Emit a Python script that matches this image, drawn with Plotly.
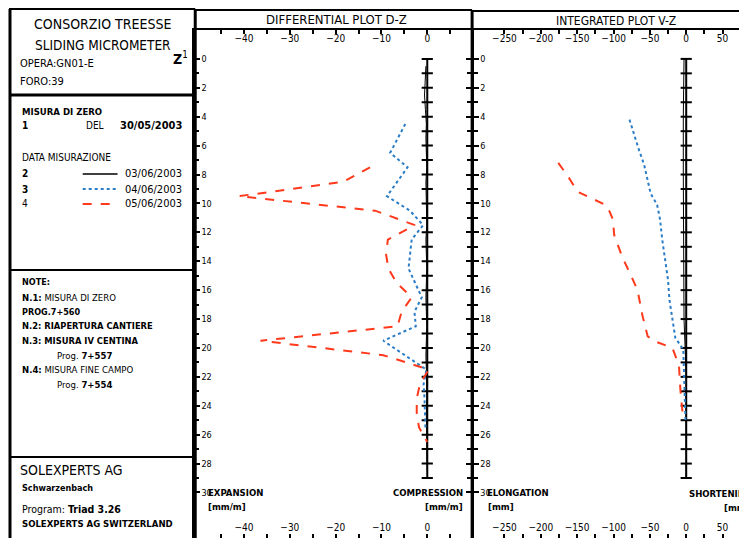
import plotly.graph_objects as go

# reference picture is 747x538; the page body adds an 8px margin, so the figure is drawn 8px smaller
W, H = 747, 538
OFF = 8
FW, FH = W - OFF, H - OFF

# ---------------- data ----------------
ref_depth = list(range(0, 30))            # measuring marks, every metre
depth_labels = list(range(0, 31, 2))      # labelled depths [m]
depth_minor = list(range(0, 31))

diff_black_depth = [0.5, 1.5, 2.5, 3.5, 4.5, 5.5, 6.5, 7.5, 8.5, 9.5, 10.5, 11.5, 12.5, 13.5, 14.5,
                    15.5, 16.5, 17.5, 18.5, 19.5, 20.5, 21.5, 22.5, 23.5, 24.5, 25.5, 26.5, 27.5, 28.5]
diff_black_val = [-0.3, -0.5, -0.6, -0.4, -0.2, -0.3, -0.2, -0.1, -0.3, -0.2, -0.2, -0.1, -0.3, -0.2, -0.1,
                  -0.2, -0.3, -0.2, -0.1, -0.2, -0.3, -0.2, -0.1, -0.1, -0.2, -0.1, -0.1, -0.1, 0.0]

diff_blue_depth = [4.5, 6.5, 7.5, 9.5, 10.5, 11.5, 12.5, 14.5, 16.5, 17.5, 18.5, 19.5, 21.5, 22.5, 23.5, 24.5, 25.5]
diff_blue_val = [-4.8, -8.1, -4.3, -8.8, -3.8, -0.9, -3.4, -4.1, -1.2, -2.8, -2.5, -9.6, -0.2, -0.8, -0.6, -0.5, -0.4]

diff_red_depth = [7.5, 8.5, 9.5, 10.5, 11.5, 12.5, 13.5, 14.5, 15.5, 16.5, 17.5, 18.5, 19.5, 20.5,
                  21.5, 22.5, 23.5, 24.5, 25.5, 26.5]
diff_red_val = [-12.5, -18.3, -41.1, -11.4, -2.7, -8.6, -9.0, -8.5, -6.7, -3.4, -5.6, -6.5, -36.4, -9.6,
                0.3, -1.6, -2.3, -2.3, -1.8, 0.0]

int_black_depth = [0, 2, 4, 8, 12, 16, 18, 20, 22, 29]
int_black_val = [-3, -4, -4, -4, -4, -3.5, -3, -1.5, 0, 0]

int_blue_depth = [4.2, 4.9, 6.3, 7.3, 9.3, 10.1, 11.1, 12.5, 14.1, 15.3, 16.7, 18.1, 19.3, 20.1, 22.2, 25.0]
int_blue_val = [-78, -74, -65, -58, -49, -40, -36, -33, -28, -25, -23, -19, -15, -4, -3, -1]

int_red_depth = [7.2, 8.1, 9.2, 9.6, 10.1, 10.6, 11.1, 12.2, 13.7, 15.1, 16.0, 17.8, 19.2, 19.6, 20.0,
                 21.2, 22.9, 24.5, 25.0]
int_red_val = [-176, -163, -149, -131, -111, -105, -101, -99, -88, -75, -67, -60, -53, -40, -19,
               -10, -8, -5, -3]

series_names = ["03/06/2003", "04/06/2003", "05/06/2003"]

# ---------------- helpers ----------------
def X(px):
    return (px - OFF) / FW


def Y(py):
    return 1 - (py - OFF) / FH


FONT = "DejaVu Sans Condensed, Liberation Sans Narrow, Arial Narrow, sans-serif"
BLUE = "#2a7cc6"
RED = "#ff3a1c"

fig = go.Figure()

# differential plot
fig.add_trace(go.Scatter(x=[0 for _ in ref_depth], y=ref_depth, xaxis="x", yaxis="y", mode="lines+markers",
                         line=dict(color="black", width=2),
                         marker=dict(symbol="line-ew", size=8, line=dict(color="black", width=2)),
                         showlegend=False, hoverinfo="skip"))
fig.add_trace(go.Scatter(x=diff_black_val, y=diff_black_depth, xaxis="x", yaxis="y", mode="lines",
                         line=dict(color="black", width=1), name=series_names[0], showlegend=False))
fig.add_trace(go.Scatter(x=diff_blue_val, y=diff_blue_depth, xaxis="x", yaxis="y", mode="lines",
                         line=dict(color=BLUE, width=2, dash="dot"), name=series_names[1], showlegend=False))
fig.add_trace(go.Scatter(x=diff_red_val, y=diff_red_depth, xaxis="x", yaxis="y", mode="lines",
                         line=dict(color=RED, width=2, dash="dash"), name=series_names[2], showlegend=False))
fig.add_trace(go.Scatter(x=[None], y=[None], xaxis="x2", yaxis="y", showlegend=False, hoverinfo="skip"))

# integrated plot
fig.add_trace(go.Scatter(x=[0 for _ in ref_depth], y=ref_depth, xaxis="x3", yaxis="y2", mode="lines+markers",
                         line=dict(color="black", width=2),
                         marker=dict(symbol="line-ew", size=8, line=dict(color="black", width=2)),
                         showlegend=False, hoverinfo="skip"))
fig.add_trace(go.Scatter(x=int_black_val, y=int_black_depth, xaxis="x3", yaxis="y2", mode="lines",
                         line=dict(color="black", width=1), name=series_names[0], showlegend=False))
fig.add_trace(go.Scatter(x=int_blue_val, y=int_blue_depth, xaxis="x3", yaxis="y2", mode="lines",
                         line=dict(color=BLUE, width=2, dash="dot"), name=series_names[1], showlegend=False))
fig.add_trace(go.Scatter(x=int_red_val, y=int_red_depth, xaxis="x3", yaxis="y2", mode="lines",
                         line=dict(color=RED, width=2, dash="dash"), name=series_names[2], showlegend=False))
fig.add_trace(go.Scatter(x=[None], y=[None], xaxis="x4", yaxis="y2", showlegend=False, hoverinfo="skip"))

tickfont = dict(family=FONT, size=10, color="black")


def xax(dom, rng, dtick, minor, side, overlay=None, anchor="y", line=False):
    d = dict(domain=dom, range=rng, anchor=anchor, side=side, tick0=0, dtick=dtick,
             ticks="inside", ticklen=4, tickwidth=1.5, tickcolor="black",
             ticklabelposition="inside", tickfont=tickfont, showgrid=False, zeroline=False,
             showline=line, linecolor="black", linewidth=2,
             minor=dict(dtick=minor, tick0=0, ticks="inside", ticklen=4, tickcolor="black", showgrid=False))
    if overlay:
        d["overlaying"] = overlay
    return d


def yax(anchor):
    return dict(domain=[0, Y(30)], range=[33.15, -2.0], anchor=anchor,
                tickmode="array", tickvals=depth_labels,
                ticks="inside", ticklen=5, tickwidth=1.5, tickcolor="black",
                ticklabelposition="inside", tickfont=dict(family=FONT, size=9, color="black"),
                showgrid=False, zeroline=False, showline=True, linecolor="black", linewidth=3,
                mirror="ticks",
                minor=dict(tickmode="array", tickvals=depth_minor, ticks="inside", ticklen=4,
                           tickcolor="black", showgrid=False))


dom_d = [X(196), X(473)]
dom_i = [X(476), 1.0]
rng_d = [-50.65, 9.57]
rng_i = [-291.8, 79.5]

layout = dict(
    width=FW, height=FH, margin=dict(l=0, r=0, t=0, b=0),
    paper_bgcolor="white", plot_bgcolor="white", showlegend=False,
    font=dict(family=FONT, color="black"),
    xaxis=xax(dom_d, rng_d, 10, 5, "bottom", anchor="y"),
    xaxis2=xax(dom_d, rng_d, 10, 5, "top", overlay="x", anchor="y", line=True),
    xaxis3=xax(dom_i, rng_i, 50, 25, "bottom", anchor="y2"),
    xaxis4=xax(dom_i, rng_i, 50, 25, "top", overlay="x3", anchor="y2", line=True),
    yaxis=yax("x"),
    yaxis2=yax("x3"),
)
fig.update_layout(**layout)

# ---------------- frame shapes ----------------
shapes = []


def line(x0, y0, x1, y1, w=2, color="black", dash="solid"):
    shapes.append(dict(type="line", xref="paper", yref="paper", x0=X(x0), y0=Y(y0), x1=X(x1), y1=Y(y1),
                       line=dict(color=color, width=w, dash=dash)))


# left panel
line(10, 9, 10, 540, 3)
line(9, 9, 196, 9, 2)
line(10, 95, 195, 95, 3)
line(10, 270, 195, 270, 2)
line(10, 457, 195, 457, 2)
# middle panel
line(196, 9, 196, 540, 3)
line(196, 10, 474, 10, 2)
line(474, 10, 474, 540, 3)
# right panel
line(474, 11, 747, 11, 2)

# legend keys
line(83, 174, 118, 174, 1.5, "black")
line(83, 189, 118, 189, 2, BLUE, "dot")
line(83, 204, 118, 204, 2, RED, "dash")
fig.update_layout(shapes=shapes)

# ---------------- texts ----------------
ann = []


def txt(x, y, s, size=10, anchor="left", bold=False):
    ann.append(dict(x=X(x), y=Y(y), xref="paper", yref="paper", text=("<b>%s</b>" % s) if bold else s,
                    showarrow=False, xanchor=anchor, yanchor="middle",
                    font=dict(family=FONT, size=size, color="black")))


txt(103, 24, "CONSORZIO TREESSE", 14, "center")
txt(103, 45, "SLIDING MICROMETER", 13.5, "center")
txt(181, 58, "<b>Z</b><sup>1</sup>", 14, "center")
txt(18, 64, "OPERA:GN01-E", 11)
txt(18, 82, "FORO:39", 11)

txt(20, 111, "MISURA DI ZERO", 9.5, bold=True)
txt(20, 126, "1", 10, bold=True)
txt(84, 126, "DEL", 10)
txt(185, 126, "30/05/2003", 11, "right", bold=True)
txt(20, 158, "DATA MISURAZIONE", 10)
txt(20, 174, "2", 10, bold=True)
txt(20, 189, "3", 10, bold=True)
txt(20, 204, "4", 10)
txt(185, 174, series_names[0], 11, "right")
txt(185, 189, series_names[1], 11, "right")
txt(185, 204, series_names[2], 11, "right")

txt(20, 282, "NOTE:", 9, bold=True)
txt(20, 297, "<b>N.1:</b> MISURA DI ZERO", 9.5)
txt(20, 312, "PROG.7+560", 9, bold=True)
txt(20, 325, "N.2: RIAPERTURA CANTIERE", 9.3, bold=True)
txt(20, 340, "N.3: MISURA IV CENTINA", 9.3, bold=True)
txt(55, 355, "Prog. <b>7+557</b>", 9.5)
txt(20, 369, "<b>N.4:</b> MISURA FINE CAMPO", 9.5)
txt(55, 384, "Prog. <b>7+554</b>", 9.5)

txt(18, 470, "SOLEXPERTS AG", 14)
txt(20, 488, "Schwarzenbach", 9, bold=True)
txt(20, 509, "Program: <b>Triad 3.26</b>", 10.5)
txt(20, 523, "SOLEXPERTS AG SWITZERLAND", 9.5, bold=True)

txt(338, 20, "DIFFERENTIAL PLOT D-Z", 13, "center")
txt(618, 21, "INTEGRATED PLOT V-Z", 12, "center")

txt(207, 492, "EXPANSION", 9.5, bold=True)
txt(207, 506, "[mm/m]", 9.5, bold=True)
txt(467, 492, "COMPRESSION", 9.5, "right", bold=True)
txt(467, 506, "[mm/m]", 9.5, "right", bold=True)
txt(487, 492, "ELONGATION", 9.5, bold=True)
txt(488, 506, "[mm]", 9.5, bold=True)
txt(690, 493, "SHORTENING", 9.5, bold=True)
txt(725, 507, "[mm]", 9.5, bold=True)

fig.update_layout(annotations=ann)

fig.write_html("out.html")
